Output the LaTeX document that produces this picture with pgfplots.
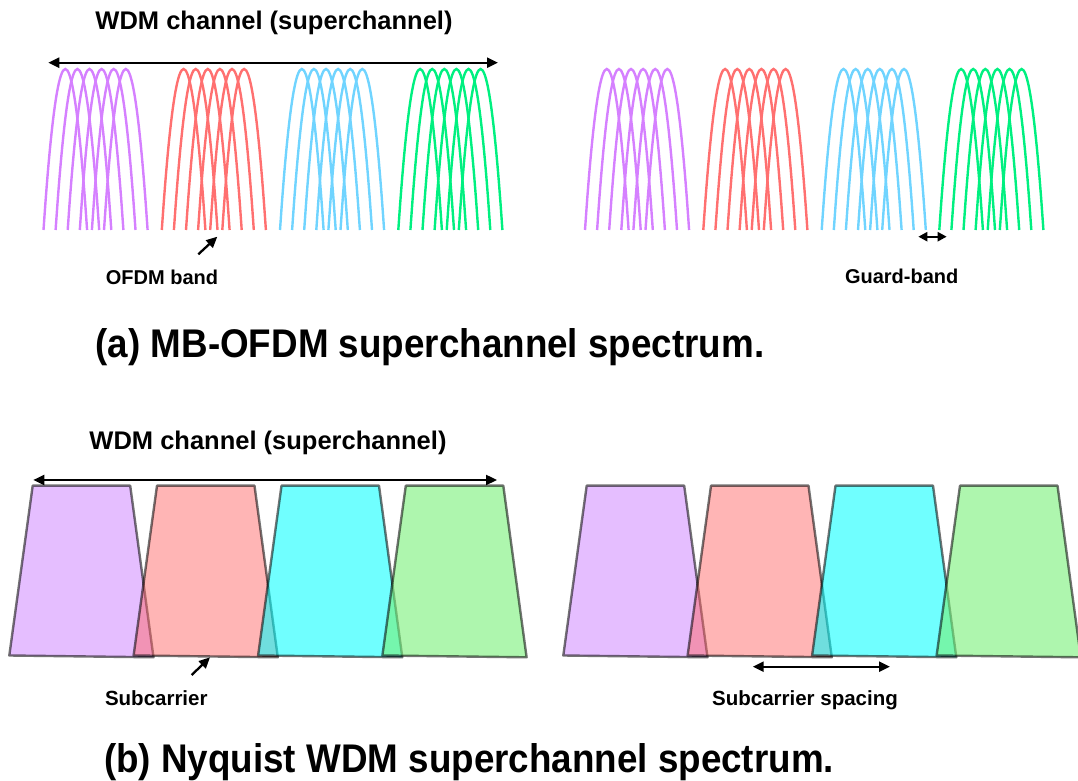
\documentclass[border=0pt]{standalone}
\usepackage{pgfplots}
\pgfplotsset{compat=1.18}
\usepackage{pgfplotstable}
\usepackage{fontspec}
\setmainfont{Liberation Sans}
\usetikzlibrary{arrows.meta}

\definecolor{cP}{RGB}{213,128,255}
\definecolor{cR}{RGB}{255,112,112}
\definecolor{cB}{RGB}{112,212,255}
\definecolor{cG}{RGB}{0,240,128}
\definecolor{fP}{RGB}{160,15,255}
\definecolor{fR}{RGB}{255,100,100}
\definecolor{fC}{RGB}{0,255,255}
\definecolor{fG}{RGB}{120,240,120}

% one OFDM subcarrier lobe (unit shape: offset, relative height)
\pgfplotstableread{
dx h
-1 0
-0.9 0.19
-0.8 0.36
-0.7 0.51
-0.6 0.64
-0.5 0.75
-0.4 0.84
-0.3 0.91
-0.2 0.96
-0.1 0.99
0 1
0.1 0.99
0.2 0.96
0.3 0.91
0.4 0.84
0.5 0.75
0.6 0.64
0.7 0.51
0.8 0.36
0.9 0.19
1 0
}\arctab

\newcommand{\arcgroup}[2]{%
  \pgfplotsinvokeforeach{0,...,5}{%
    \addplot[#2, smooth, line width=2.4pt] table[x expr={#1+21.8+12.1*##1+21.8*\thisrow{dx}}, y expr={551+161*\thisrow{h}}] {\arctab};
  }%
}

\tikzset{
  trap/.style={draw=black, draw opacity=0.55, line width=2.4pt, line join=round},
  arr/.style={line width=2.3pt, -{Triangle[length=11pt,width=10pt]}},
  darr/.style={line width=2.3pt, {Triangle[length=11pt,width=10pt]}-{Triangle[length=11pt,width=10pt]}},
}

\begin{document}
\begin{tikzpicture}
\begin{axis}[
  scale only axis,
  width=1078pt, height=781pt,
  xmin=0, xmax=1078, ymin=0, ymax=781,
  hide axis,
]
% ---------- (a) MB-OFDM ----------
\arcgroup{43.5}{cP}
\arcgroup{161.8}{cR}
\arcgroup{280}{cB}
\arcgroup{398.3}{cG}
\arcgroup{585}{cP}
\arcgroup{703.3}{cR}
\arcgroup{821.7}{cB}
\arcgroup{939.3}{cG}

% ---------- (b) Nyquist WDM ----------
\addplot[trap, fill=fP, fill opacity=0.27] coordinates {(32.7,295.3) (130.2,295.3) (153.5,123.7) (9.3,125.5)} -- cycle;
\addplot[trap, fill=fR, fill opacity=0.48] coordinates {(157,295.3) (254.5,295.3) (277.8,123.7) (133.6,125.5)} -- cycle;
\addplot[trap, fill=fC, fill opacity=0.56] coordinates {(281.5,295.3) (379,295.3) (402.3,123.7) (258.1,125.5)} -- cycle;
\addplot[trap, fill=fG, fill opacity=0.60] coordinates {(405.8,295.3) (503.3,295.3) (526.6,123.7) (382.4,125.5)} -- cycle;

\addplot[trap, fill=fP, fill opacity=0.27] coordinates {(586.7,295.3) (684.2,295.3) (707.5,123.7) (563.3,125.5)} -- cycle;
\addplot[trap, fill=fR, fill opacity=0.48] coordinates {(711,295.3) (808.5,295.3) (831.8,123.7) (687.6,125.5)} -- cycle;
\addplot[trap, fill=fC, fill opacity=0.56] coordinates {(835.5,295.3) (933,295.3) (956.3,123.7) (812.1,125.5)} -- cycle;
\addplot[trap, fill=fG, fill opacity=0.60] coordinates {(960,295.3) (1057.5,295.3) (1080.8,123.7) (936.6,125.5)} -- cycle;

% ---------- arrows ----------
\draw[darr] (axis cs:48.3,718.3) -- (axis cs:498,718.3);
\draw[arr] (axis cs:198.3,526.7) -- (axis cs:217.3,544.3);
\draw[line width=2.3pt, {Triangle[length=9pt,width=9pt]}-{Triangle[length=9pt,width=9pt]}] (axis cs:918.3,544.3) -- (axis cs:946.7,544.3);
\draw[darr] (axis cs:33.3,301) -- (axis cs:497,301);
\draw[arr] (axis cs:191.7,106) -- (axis cs:210,123.7);
\draw[darr] (axis cs:752.7,114.3) -- (axis cs:890,114.3);

% ---------- texts ----------
\node[anchor=base, font=\fontsize{25.5}{30}\selectfont\bfseries] at (axis cs:274,751.7) {WDM channel (superchannel)};
\node[anchor=base, font=\fontsize{20}{24}\selectfont\bfseries] at (axis cs:162,496.7) {OFDM band};
\node[anchor=base, font=\fontsize{20}{24}\selectfont\bfseries] at (axis cs:901.7,497) {Guard-band};
\node[anchor=base, font=\fontsize{40}{48}\selectfont\bfseries] at (axis cs:430,423) {\scalebox{0.92}[1]{(a) MB-OFDM superchannel spectrum.}};
\node[anchor=base, font=\fontsize{25.5}{30}\selectfont\bfseries] at (axis cs:268,331) {WDM channel (superchannel)};
\node[anchor=base, font=\fontsize{20.5}{24}\selectfont\bfseries] at (axis cs:156.3,75.3) {Subcarrier};
\node[anchor=base, font=\fontsize{20.5}{24}\selectfont\bfseries] at (axis cs:805,75.3) {Subcarrier spacing};
\node[anchor=base, font=\fontsize{40}{48}\selectfont\bfseries] at (axis cs:469,8) {\scalebox{0.92}[1]{(b) Nyquist WDM superchannel spectrum.}};
\end{axis}
\pgfresetboundingbox
\path (current axis.south west) rectangle (current axis.north east);
\end{tikzpicture}
\end{document}
